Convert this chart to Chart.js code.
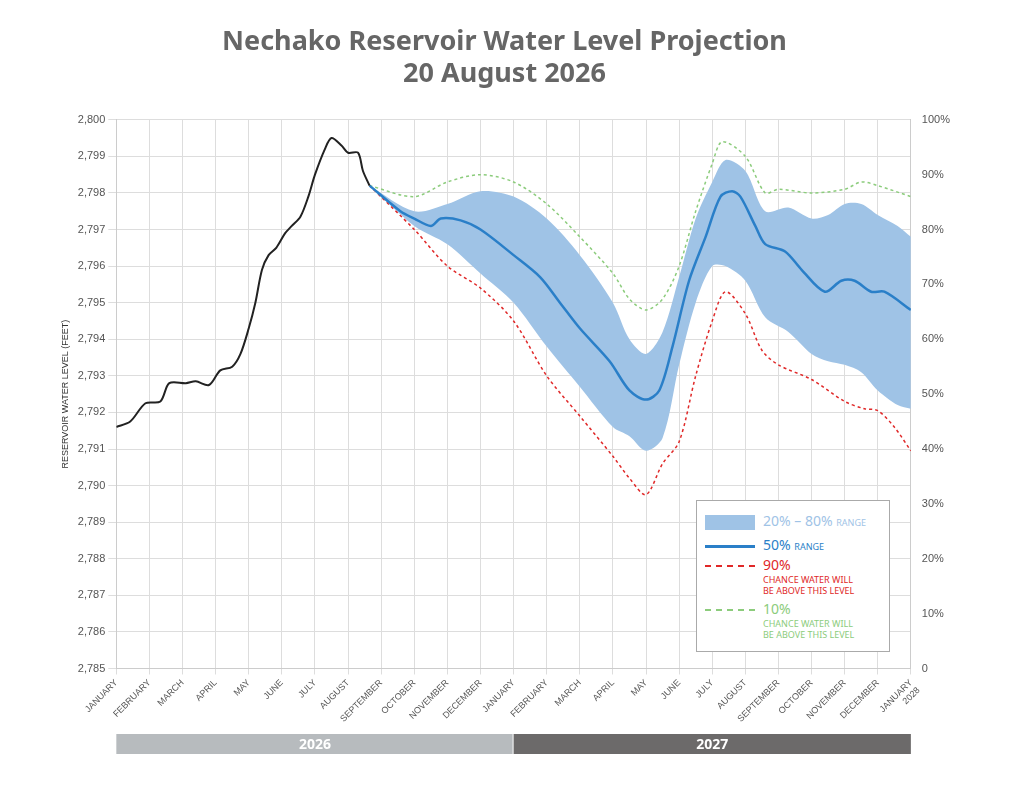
<!DOCTYPE html>
<html><head><meta charset="utf-8">
<script src="https://cdn.jsdelivr.net/npm/chart.js@4"></script>
<style>
body{margin:0;background:#fff;font-family:"Noto Sans",sans-serif;}
#wrap{position:relative;width:1024px;height:791px;}
#legend{position:absolute;left:696px;top:500px;width:192px;height:150px;border:1px solid #aaa;background:#fff;font-size:14px;}
.row{position:absolute;left:8px;}
.sw{display:inline-block;width:50px;vertical-align:middle;margin-right:8px;}
.small{font-size:9px;}
</style></head><body>
<div id="wrap"><canvas id="c" width="1024" height="791"></canvas>
<div id="legend">
 <div class="row" style="top:10px;color:#9fc3e6"><span class="sw" style="height:15px;background:#9fc3e6"></span>20% – 80% <span class="small">RANGE</span></div>
 <div class="row" style="top:34px;color:#2a7fc8"><span class="sw" style="border-top:3px solid #2a7fc8"></span>50% <span class="small">RANGE</span></div>
 <div class="row" style="top:54px;color:#e02828"><span class="sw" style="border-top:2px dashed #e02828"></span>90%<div class="small" style="margin-left:58px;line-height:11px">CHANCE WATER WILL<br>BE ABOVE THIS LEVEL</div></div>
 <div class="row" style="top:98px;color:#8ccc7c"><span class="sw" style="border-top:2px dashed #8ccc7c"></span>10%<div class="small" style="margin-left:58px;line-height:11px">CHANCE WATER WILL<br>BE ABOVE THIS LEVEL</div></div>
</div></div>
<script>
// x values are months since January 2026
const months = ["JANUARY","FEBRUARY","MARCH","APRIL","MAY","JUNE","JULY","AUGUST","SEPTEMBER","OCTOBER","NOVEMBER","DECEMBER"];
const years = ["2026","2027"];

const actualT = [0,0.42,0.88,1.33,1.6,2.1,2.4,2.8,3.14,3.5,3.75,4.0,4.2,4.4,4.6,4.83,5.1,5.3,5.56,5.8,6.0,6.3,6.5,6.8,7.0,7.3,7.45,7.65];
const actualV = [2791.6,2791.75,2792.25,2792.3,2792.8,2792.8,2792.85,2792.75,2793.15,2793.25,2793.6,2794.3,2795.0,2795.9,2796.3,2796.5,2796.9,2797.1,2797.35,2797.9,2798.5,2799.2,2799.5,2799.3,2799.1,2799.1,2798.6,2798.2];

const projT = [7.65,8.58,9,9.5,9.8,10.4,11,12,12.8,13.4,14,14.9,15.5,16,16.4,16.8,17.3,17.8,18.25,18.6,18.85,19.3,19.6,20.2,20.7,21.4,21.9,22.3,22.8,23.2,24];
const medianV = [2798.2,2797.5,2797.3,2797.1,2797.3,2797.25,2797.0,2796.3,2795.7,2795.0,2794.3,2793.4,2792.6,2792.35,2792.6,2793.8,2795.6,2796.8,2797.9,2798.05,2797.9,2797.1,2796.6,2796.4,2795.9,2795.3,2795.6,2795.6,2795.3,2795.3,2794.8];

const bandT = [7.65,9,10,11,12,13,14,15,15.5,16,16.5,17,17.5,18,18.4,19,19.6,20.3,21,21.5,22,22.5,23,23.6,24];
const upperV = [2798.2,2797.5,2797.7,2798.05,2797.9,2797.3,2796.3,2795.0,2794.0,2793.6,2794.2,2795.7,2797.3,2798.3,2798.9,2798.6,2797.5,2797.6,2797.3,2797.4,2797.7,2797.7,2797.4,2797.1,2796.8];
const lowerV = [2798.2,2797.1,2796.6,2795.8,2795.0,2793.8,2792.7,2791.6,2791.35,2790.95,2791.3,2793.3,2795.0,2796.0,2796.0,2795.6,2794.6,2794.2,2793.6,2793.4,2793.3,2793.1,2792.6,2792.2,2792.1];

const pctT = [7.65,9,10,11,12,13,14,15,15.5,16,16.5,17,17.5,18,18.4,19,19.5,20,21,22,22.6,23,23.5,24];
const p90V = [2798.2,2797.0,2796.0,2795.4,2794.5,2793.0,2791.9,2790.8,2790.2,2789.75,2790.6,2791.2,2793.0,2794.5,2795.3,2794.7,2793.7,2793.3,2792.9,2792.3,2792.1,2792.05,2791.6,2790.95];
const p10T = [7.65,9,10,11,12,13,14,15,15.5,16,16.5,17,17.5,18,18.3,19,19.6,20,21,22,22.5,23,24];
const p10V = [2798.2,2797.9,2798.3,2798.5,2798.3,2797.7,2796.8,2795.8,2795.1,2794.8,2795.1,2796.0,2797.5,2798.8,2799.4,2799.0,2798.0,2798.1,2798.0,2798.1,2798.3,2798.2,2797.9];

const pts = (t, v) => t.map((x, i) => ({x: x, y: v[i]}));

const yearBar = {
  id: "yearBar",
  afterDraw(chart) {
    const ctx = chart.ctx, x = chart.scales.x;
    const cols = ["#b7bbbe", "#6c6a6a"];
    years.forEach((y, i) => {
      const a = x.getPixelForValue(i * 12), b = x.getPixelForValue(i * 12 + 12);
      ctx.fillStyle = cols[i];
      ctx.fillRect(a, 734, b - a - (i === 0 ? 1 : 0), 20);
      ctx.fillStyle = "#fff";
      ctx.font = "bold 14px 'Noto Sans'";
      ctx.textAlign = "center";
      ctx.textBaseline = "middle";
      ctx.fillText(y, (a + b) / 2, 745);
    });
  }
};

new Chart(document.getElementById("c"), {
  type: "line",
  data: {
    datasets: [
      {data: pts(bandT, lowerV), borderWidth: 0, pointRadius: 0, fill: false, tension: 0.3, order: 10},
      {data: pts(bandT, upperV), borderWidth: 0, pointRadius: 0, backgroundColor: "#9fc3e6", fill: "-1", tension: 0.3, order: 9},
      {data: pts(pctT, p90V), borderColor: "#e02828", borderWidth: 1.5, borderDash: [3, 3], pointRadius: 0, tension: 0.3, order: 4},
      {data: pts(p10T, p10V), borderColor: "#8ccc7c", borderWidth: 1.5, borderDash: [3, 3], pointRadius: 0, tension: 0.3, order: 3},
      {data: pts(projT, medianV), borderColor: "#2a7fc8", borderWidth: 2.5, pointRadius: 0, tension: 0.3, order: 2},
      {data: pts(actualT, actualV), borderColor: "#222", borderWidth: 2, pointRadius: 0, tension: 0.3, order: 1}
    ]
  },
  options: {
    responsive: false,
    animation: false,
    layout: {padding: {left: 56, right: 71, top: 0, bottom: 56}},
    plugins: {
      legend: {display: false},
      tooltip: {enabled: false},
      title: {
        display: true,
        text: ["Nechako Reservoir Water Level Projection", "20 August 2026"],
        color: "#666",
        font: {size: 27, weight: "bold", family: "'Noto Sans'"},
        padding: {top: 26, bottom: 29}
      }
    },
    scales: {
      x: {
        type: "linear", min: 0, max: 24,
        grid: {color: "#ddd", tickLength: 6},
        border: {color: "#ccc"},
        ticks: {
          stepSize: 1, autoSkip: false, maxRotation: 45, minRotation: 45,
          color: "#555", font: {size: 9},
          callback: v => v === 24 ? ["JANUARY", "2028"] : months[v % 12]
        }
      },
      y: {
        min: 2785, max: 2800,
        grid: {color: "#ddd"},
        border: {color: "#ccc"},
        title: {display: true, text: "RESERVOIR WATER LEVEL (FEET)", color: "#333", font: {size: 9}},
        ticks: {stepSize: 1, color: "#555", font: {size: 11}, callback: v => v.toLocaleString("en-US")}
      },
      y2: {
        position: "right", min: 0, max: 100,
        grid: {display: false},
        border: {color: "#ccc"},
        ticks: {stepSize: 10, color: "#555", font: {size: 11}, callback: v => v === 0 ? "0" : v + "%"}
      }
    }
  },
  plugins: [yearBar]
});
</script></body></html>
